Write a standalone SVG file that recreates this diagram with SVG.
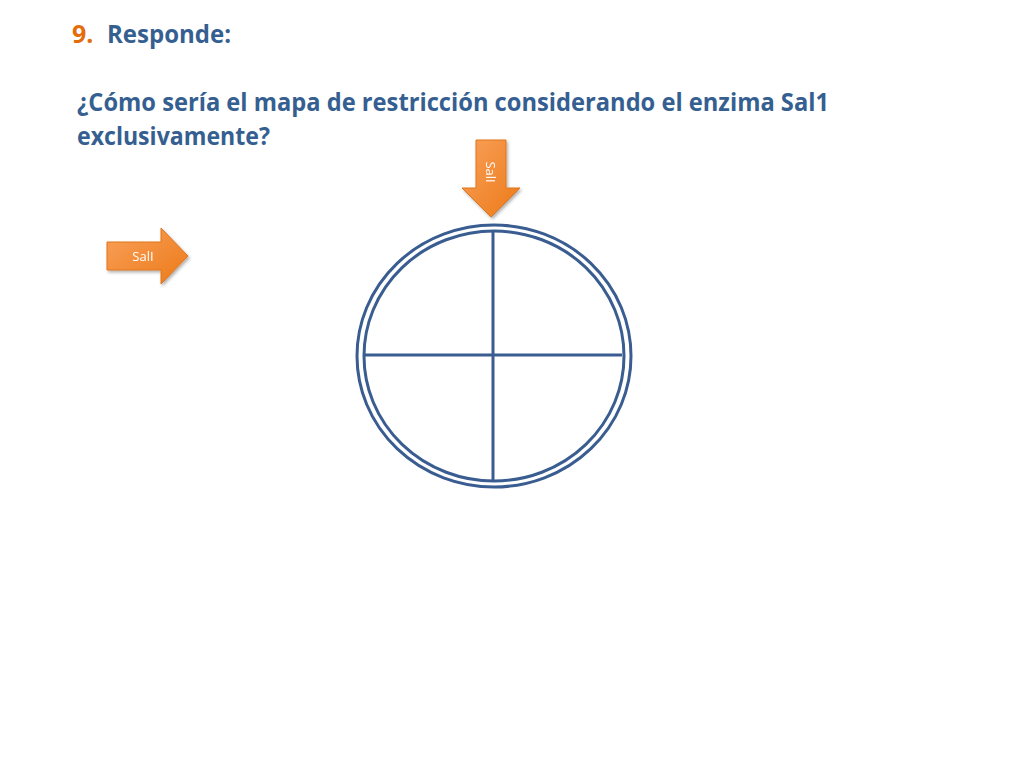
<svg xmlns="http://www.w3.org/2000/svg" width="1024" height="768" viewBox="0 0 1024 768">
<style>
.t{font-family:"Open Sans","Liberation Sans",sans-serif;font-weight:bold;font-size:25px;fill:#365F91}
.lbl{font-family:"Open Sans","Liberation Sans",sans-serif;font-size:13px;fill:#ffffff}
.ring{fill:none;stroke:#3A5D91;stroke-width:3}
.arr{fill:url(#og);stroke:#E0741C;stroke-width:1}
</style>
<defs>
<linearGradient id="og" x1="0" y1="0" x2="1" y2="1">
<stop offset="0" stop-color="#F9A05A"/>
<stop offset="1" stop-color="#EC7A18"/>
</linearGradient>
<filter id="sh" x="-20%" y="-20%" width="150%" height="150%">
<feDropShadow dx="1.5" dy="2" stdDeviation="1.5" flood-color="#000" flood-opacity="0.3"/>
</filter>
</defs>
<rect width="1024" height="768" fill="#ffffff"/>
<text class="t" x="72" y="43"><tspan fill="#E46C0A">9.</tspan></text>
<text class="t" x="107" y="43" textLength="124" lengthAdjust="spacingAndGlyphs">Responde:</text>
<text class="t" x="77" y="111" textLength="752" lengthAdjust="spacingAndGlyphs">¿Cómo sería el mapa de restricción considerando el enzima Sal1</text>
<text class="t" x="77" y="145" textLength="193" lengthAdjust="spacingAndGlyphs">exclusivamente?</text>
<g id="plasmid">
<ellipse class="ring" cx="494" cy="356" rx="137" ry="131"/>
<ellipse class="ring" cx="494" cy="356" rx="130" ry="125"/>
<line class="ring" x1="493" y1="231" x2="493" y2="482"/>
<line class="ring" x1="364" y1="355" x2="622" y2="355"/>
</g>
<g id="arrow-down" filter="url(#sh)">
<path class="arr" d="M476,140 H506 V188 H520 L491,217 L462,188 H476 Z"/>
<text class="lbl" transform="translate(486,172) rotate(90)" text-anchor="middle">SalI</text>
</g>
<g id="arrow-right" filter="url(#sh)">
<path class="arr" d="M107,242 H161 V228 L188,256 L161,284 V270 H107 Z"/>
<text class="lbl" x="143" y="261" text-anchor="middle">SalI</text>
</g>
</svg>
